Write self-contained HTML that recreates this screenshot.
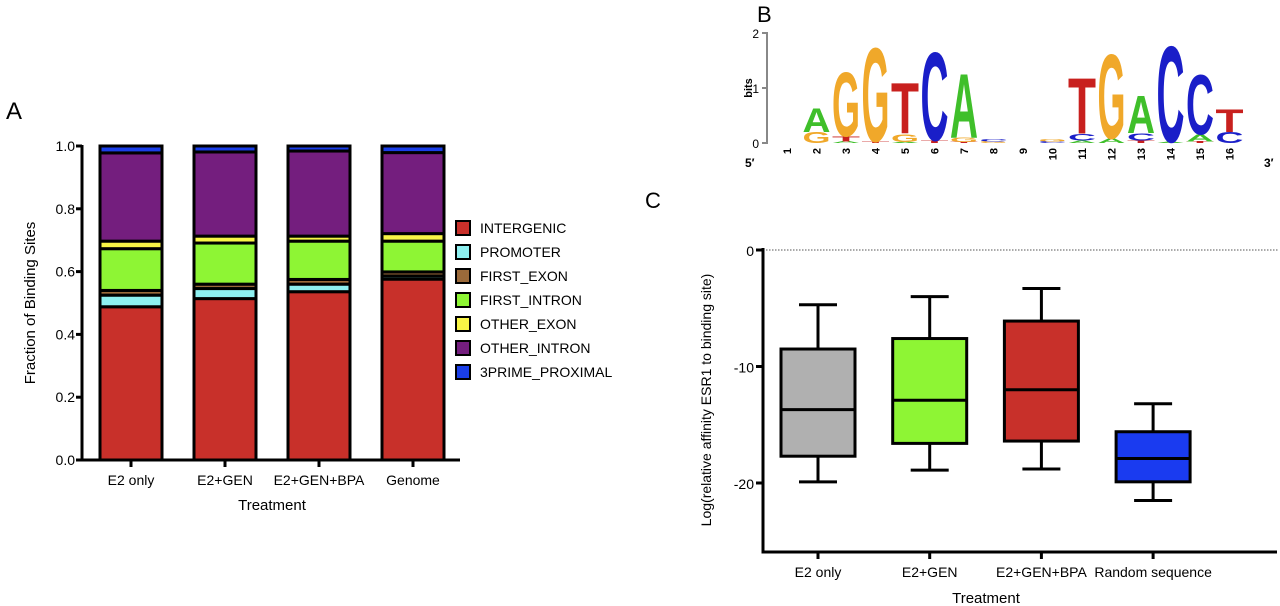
<!DOCTYPE html>
<html><head><meta charset="utf-8"><style>
html,body{margin:0;padding:0;background:#fff;}
svg{display:block;font-family:"Liberation Sans",Arial,sans-serif;}
</style></head><body>
<svg id="fig" width="1280" height="606" viewBox="0 0 1280 606">
<text x="6" y="119" font-size="24">A</text>
<text x="757" y="22" font-size="22">B</text>
<text x="645" y="208" font-size="22">C</text>
<g id="pa"></g>
<g id="pb"></g>
<g id="pc"></g>
</svg>
<script>
const NS='http://www.w3.org/2000/svg';
function mk(p,t,a,txt){const e=document.createElementNS(NS,t);for(const k in a)e.setAttribute(k,a[k]);if(txt!==undefined)e.textContent=txt;p.appendChild(e);return e;}

// ---------- Panel A data ----------
const aCategories=['E2 only','E2+GEN','E2+GEN+BPA','Genome'];
const aSeriesNames=['INTERGENIC','PROMOTER','FIRST_EXON','FIRST_INTRON','OTHER_EXON','OTHER_INTRON','3PRIME_PROXIMAL'];
const aSeriesColors=['#c8302a','#8ef0f0','#9b6a3a','#8ef534','#f8f546','#741e7e','#1a3ee8'];
const aIntergenic=[0.488,0.514,0.536,0.576];
const aPromoter=[0.037,0.032,0.024,0.010];
const aFirstExon=[0.015,0.014,0.015,0.013];
const aFirstIntron=[0.133,0.131,0.122,0.098];
const aOtherExon=[0.024,0.022,0.016,0.024];
const aOtherIntron=[0.281,0.268,0.271,0.258];
const a3Prime=[0.022,0.019,0.016,0.021];
const aTicks=['0.0','0.2','0.4','0.6','0.8','1.0'];

(function(){
const g=document.getElementById('pa');
const y=v=>460-v*314, x=i=>131+i*94;
const series=[aIntergenic,aPromoter,aFirstExon,aFirstIntron,aOtherExon,aOtherIntron,a3Prime];
aCategories.forEach((c,i)=>{
  let cum=0;
  series.forEach((s,j)=>{
    const r=mk(g,'rect',{x:x(i)-31,y:y(cum+s[i]),width:62,height:y(cum)-y(cum+s[i]),fill:aSeriesColors[j],stroke:'#000','stroke-width':3});
    
    
    cum+=s[i];
  });
  const t=mk(g,'text',{x:x(i),y:485,'font-size':14,'text-anchor':'middle'},c);
  
  
  mk(g,'line',{x1:x(i),x2:x(i),y1:460,y2:467,stroke:'#000','stroke-width':3});
});
aTicks.forEach(tk=>{
  const v=parseFloat(tk);
  mk(g,'line',{x1:76,x2:82,y1:y(v),y2:y(v),stroke:'#000','stroke-width':3});
  const t=mk(g,'text',{x:75,y:y(v)+5,'font-size':14,'text-anchor':'end'},tk);
  
  
});
mk(g,'line',{x1:82,x2:82,y1:145,y2:461.5,stroke:'#000','stroke-width':3});
mk(g,'line',{x1:80.5,x2:460,y1:460,y2:460,stroke:'#000','stroke-width':3});
let t=mk(g,'text',{x:272,y:510,'font-size':15,'text-anchor':'middle'},'Treatment');

t=mk(g,'text',{transform:'translate(35,303) rotate(-90)','font-size':15,'text-anchor':'middle'},'Fraction of Binding Sites');

aSeriesNames.forEach((n,j)=>{
  const yy=228+j*24;
  const r=mk(g,'rect',{x:456,y:yy-7,width:14,height:14,fill:aSeriesColors[j],stroke:'#000','stroke-width':2});
  
  
  const tt=mk(g,'text',{x:480,y:yy+5,'font-size':14},n);
  
  
});
})();

// ---------- Panel B data ----------
const bPositions=['1','2','3','4','5','6','7','8','9','10','11','12','13','14','15','16'];
const bLetters=[[],['G','A'],['A','T','G'],['T','G'],['A','G','T'],['T','C'],['T','G','A'],['G','C'],[],['C','G'],['A','C','T'],['A','G'],['T','C','A'],['A','C'],['T','A','C'],['C','T']];
const bHeights=[[],[0.2,0.45],[0.03,0.1,1.2],[0.03,1.76],[0.02,0.15,0.95],[0.05,1.65],[0.02,0.08,1.2],[0.03,0.05],[],[0.03,0.05],[0.05,0.12,1.05],[0.08,1.58],[0.05,0.13,0.7],[0.02,1.8],[0.03,0.13,1.12],[0.2,0.42]];
const bColors={A:'#3fbf2a',C:'#1a1ec8',G:'#f0a82a',T:'#c8201e'};

(function(){
const g=document.getElementById('pb');
const y=v=>143-v*55, x=i=>787+i*29.5;
mk(g,'line',{x1:767,x2:767,y1:32,y2:144,stroke:'#888','stroke-width':2});
[0,1,2].forEach(v=>{
  mk(g,'line',{x1:762,x2:767,y1:y(v),y2:y(v),stroke:'#888','stroke-width':2});
  const t=mk(g,'text',{x:759,y:y(v)+5,'font-size':12,'text-anchor':'end'},String(v));
  
});
let t=mk(g,'text',{transform:'translate(752,88) rotate(-90)','font-size':11,'font-weight':'bold','text-anchor':'middle'},'bits');

t=mk(g,'text',{x:745,y:167,'font-size':12,'font-weight':'bold'},'5′');

t=mk(g,'text',{x:1264,y:167,'font-size':12,'font-weight':'bold'},'3′');

bPositions.forEach((p,i)=>{
  const tt=mk(g,'text',{transform:`translate(${x(i)+4},148) rotate(-90)`,'font-size':11,'font-weight':'bold','text-anchor':'end'},p);
  
  
  let cum=0;
  bLetters[i].forEach((L,k)=>{
    const h=bHeights[i][k];
    const sy=(h*55)/72;
    const ee=mk(g,'text',{transform:`translate(${x(i)-14},${y(cum)}) scale(1,${sy})`,'font-size':100,'font-weight':'bold',fill:bColors[L],textLength:28,lengthAdjust:'spacingAndGlyphs'},L);
    
    
    cum+=h;
  });
});
})();

// ---------- Panel C data ----------
const cCategories=['E2 only','E2+GEN','E2+GEN+BPA','Random sequence'];
const cColors=['#b0b0b0','#8ef534','#c8302a','#1a3bf0'];
const cWhiskerHigh=[-4.7,-4.0,-3.3,-13.2];
const cQ3=[-8.5,-7.6,-6.1,-15.6];
const cMedian=[-13.7,-12.9,-12.0,-17.9];
const cQ1=[-17.7,-16.6,-16.4,-19.9];
const cWhiskerLow=[-19.9,-18.9,-18.8,-21.5];
const cTicks=['0','-10','-20'];

(function(){
const g=document.getElementById('pc');
const y=v=>250-v*11.65, x=i=>818+i*111.7;
mk(g,'line',{x1:763,x2:1278,y1:y(0),y2:y(0),stroke:'#555','stroke-width':1,'stroke-dasharray':'1.5,1.5'});
cCategories.forEach((c,i)=>{
  const cx=x(i);
  mk(g,'line',{x1:cx,x2:cx,y1:y(cWhiskerHigh[i]),y2:y(cQ3[i]),stroke:'#000','stroke-width':3});
  mk(g,'line',{x1:cx,x2:cx,y1:y(cQ1[i]),y2:y(cWhiskerLow[i]),stroke:'#000','stroke-width':3});
  mk(g,'line',{x1:cx-19,x2:cx+19,y1:y(cWhiskerHigh[i]),y2:y(cWhiskerHigh[i]),stroke:'#000','stroke-width':3});
  mk(g,'line',{x1:cx-19,x2:cx+19,y1:y(cWhiskerLow[i]),y2:y(cWhiskerLow[i]),stroke:'#000','stroke-width':3});
  const r=mk(g,'rect',{x:cx-37,y:y(cQ3[i]),width:74,height:y(cQ1[i])-y(cQ3[i]),fill:cColors[i],stroke:'#000','stroke-width':3});
  
  
  mk(g,'line',{x1:cx-37,x2:cx+37,y1:y(cMedian[i]),y2:y(cMedian[i]),stroke:'#000','stroke-width':3});
  mk(g,'line',{x1:cx,x2:cx,y1:552,y2:559,stroke:'#000','stroke-width':3});
  const t=mk(g,'text',{x:cx,y:577,'font-size':14,'text-anchor':'middle'},c);
  
  
});
cTicks.forEach(tk=>{
  const v=parseFloat(tk);
  mk(g,'line',{x1:756,x2:763,y1:y(v),y2:y(v),stroke:'#000','stroke-width':3});
  const t=mk(g,'text',{x:754,y:y(v)+6,'font-size':14,'text-anchor':'end'},tk);
  
  
});
mk(g,'line',{x1:763,x2:763,y1:248,y2:553.5,stroke:'#000','stroke-width':3});
mk(g,'line',{x1:761.5,x2:1277,y1:552,y2:552,stroke:'#000','stroke-width':3});
let t=mk(g,'text',{x:986,y:603,'font-size':15,'text-anchor':'middle'},'Treatment');

t=mk(g,'text',{transform:'translate(711,400) rotate(-90)','font-size':14,'text-anchor':'middle'},'Log(relative affinity ESR1 to binding site)');

})();
</script>
</body></html>
